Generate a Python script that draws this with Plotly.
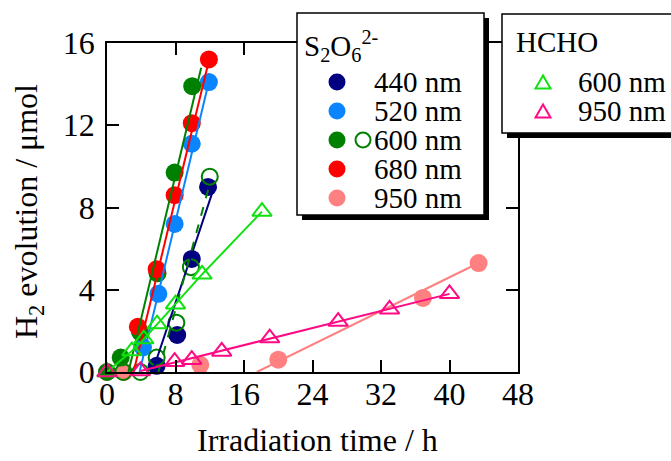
import plotly.graph_objects as go

# ---------------- data ----------------
# S2O6^2- series (filled circles)
s440_x = [5.8, 8.2, 9.9, 11.8]
s440_y = [0.3, 1.8, 5.5, 9.0]
s520_x = [4.2, 6.0, 7.9, 9.9, 11.9]
s520_y = [1.2, 3.8, 7.2, 11.1, 14.1]
s600_x = [0, 1.6, 3.85, 5.9, 7.9, 9.95]
s600_y = [0, 0.7, 1.95, 4.8, 9.7, 13.9]
s600o_x = [1.9, 3.9, 5.8, 8.1, 9.8, 12.0]
s600o_y = [0, 0, 0.7, 2.4, 5.1, 9.5]
s680_x = [3.6, 5.8, 7.9, 9.9, 11.9]
s680_y = [2.2, 5.0, 8.6, 12.1, 15.2]
s950_x = [0, 2.0, 10.9, 20.0, 36.9, 43.4]
s950_y = [0, 0, 0.35, 0.6, 3.6, 5.3]
# HCHO series (open triangles)
h600_x = [0, 2.9, 4.3, 5.85, 8.0, 11.1, 18.1]
h600_y = [0, 1.02, 1.6, 2.33, 3.3, 4.75, 7.8]
h950_x = [0, 3.9, 7.9, 9.9, 13.4, 19.0, 27.0, 33.0, 40.0]
h950_y = [0, 0.05, 0.5, 0.6, 1.0, 1.65, 2.45, 3.05, 3.8]
# fitted lines (end points)
fit440_x, fit440_y = [5.3, 12.6], [0, 9.1]
fit520_x, fit520_y = [3.8, 12.0], [0, 14.3]
fit600_x, fit600_y = [2.5, 11.0], [0, 14.8]
fit600o_x, fit600o_y = [6.0, 11.9], [0, 9.0]
fit680_x, fit680_y = [3.1, 11.7], [0, 14.8]
fit950_x, fit950_y = [17.5, 43.4], [0, 5.3]
fith950_x, fith950_y = [3.9, 40.0], [0.05, 3.8]

x_ticks = [0, 8, 16, 24, 32, 40, 48]
y_ticks = [0, 4, 8, 12, 16]

NAVY = "#000080"
BLUE = "#0A85FF"
GREEN = "#008000"
RED = "#FF0000"
SALMON = "#FF8080"
LIME = "#11E011"
PINK = "#FF0A84"

FONT = "Times New Roman, Liberation Serif, DejaVu Serif, serif"

fig = go.Figure()

def line(x, y, color, dash="solid"):
    fig.add_trace(go.Scatter(x=x, y=y, mode="lines", line=dict(color=color, width=2, dash=dash),
                             cliponaxis=False, showlegend=False, hoverinfo="skip"))

def pts(x, y, color, symbol="circle", size=18, open_=False):
    if open_:
        m = dict(symbol=symbol, size=size, color=color, line=dict(color=color, width=2))
    else:
        m = dict(symbol=symbol, size=size, color=color, line=dict(width=0))
    fig.add_trace(go.Scatter(x=x, y=y, mode="markers", marker=m, cliponaxis=False, showlegend=False))

# markers
pts(s950_x, s950_y, SALMON)
pts(s440_x, s440_y, NAVY)
pts(s520_x, s520_y, BLUE)
pts(s600_x, s600_y, GREEN)
pts(s680_x, s680_y, RED)
pts(s600o_x, s600o_y, GREEN, "circle-open", 16, True)
# lines
line(fit950_x, fit950_y, SALMON)
line(fit440_x, fit440_y, NAVY)
line(fit520_x, fit520_y, BLUE)
line(fit680_x, fit680_y, RED)
line(fit600_x, fit600_y, GREEN)
line(fit600o_x, fit600o_y, GREEN, "dash")
line(fith950_x, fith950_y, PINK)
fig.add_trace(go.Scatter(x=h600_x, y=h600_y, mode="lines+markers", line=dict(color=LIME, width=2),
                         marker=dict(symbol="triangle-up-open", size=17, color=LIME, line=dict(color=LIME, width=2)),
                         cliponaxis=False, showlegend=False))
pts(h950_x, h950_y, PINK, "triangle-up-open", 17, True)

# ---------------- layout ----------------
L, R, T, B = 107, 518, 43, 372
W, H = 671, 461

def X(px):
    return (px - L) / (R - L)

def Y(py):
    return (B - py) / (B - T)

axis_common = dict(showline=True, linecolor="black", linewidth=1.5, mirror="ticks",
                   ticks="inside", ticklen=12, tickwidth=1.5, tickcolor="black",
                   showgrid=False, zeroline=False,
                   tickfont=dict(family=FONT, size=32, color="black"))

fig.update_layout(
    width=W, height=H,
    margin=dict(l=L, r=W - R, t=T, b=H - B),
    paper_bgcolor="white", plot_bgcolor="white",
    showlegend=False,
    font=dict(family=FONT, color="black"),
    xaxis=dict(range=[0, 48], tickvals=x_ticks, ticklabelstandoff=-7, **axis_common),
    yaxis=dict(range=[0, 16], tickvals=y_ticks, ticklabelstandoff=4, **axis_common),
)

shapes = []
annotations = []

# axis titles
annotations.append(dict(xref="paper", yref="paper", x=X(317), y=Y(440), text="Irradiation time / h",
                        showarrow=False, xanchor="center", yanchor="middle",
                        font=dict(family=FONT, size=32, color="black")))
annotations.append(dict(xref="paper", yref="paper", x=X(29), y=Y(212),
                        text="H<sub>2</sub> evolution / μmol", textangle=-90,
                        showarrow=False, xanchor="center", yanchor="middle",
                        font=dict(family=FONT, size=32, color="black")))

def box(x0, y0, x1, y1):
    shapes.append(dict(type="rect", xref="paper", yref="paper", x0=X(x0 + 5), x1=X(x1 + 5),
                       y0=Y(y0 + 5), y1=Y(y1 + 5), fillcolor="black", line=dict(width=0), layer="above"))
    shapes.append(dict(type="rect", xref="paper", yref="paper", x0=X(x0), x1=X(x1),
                       y0=Y(y0), y1=Y(y1), fillcolor="white", line=dict(color="black", width=1.5), layer="above"))

def circ(cx, cy, r, color, open_=False):
    d = dict(type="circle", xref="paper", yref="paper", x0=X(cx - r), x1=X(cx + r),
             y0=Y(cy + r), y1=Y(cy - r), layer="above")
    if open_:
        d.update(fillcolor="rgba(0,0,0,0)", line=dict(color=color, width=2))
    else:
        d.update(fillcolor=color, line=dict(width=0))
    shapes.append(d)

def tri(cx, cy, s, color):
    h = s * 0.87
    path = (f"M {X(cx - s/2)},{Y(cy + h/2)} L {X(cx + s/2)},{Y(cy + h/2)} "
            f"L {X(cx)},{Y(cy - h/2)} Z")
    shapes.append(dict(type="path", xref="paper", yref="paper", path=path,
                       fillcolor="rgba(0,0,0,0)", line=dict(color=color, width=2), layer="above"))

def text(x, y, s, size=29):
    annotations.append(dict(xref="paper", yref="paper", x=X(x), y=Y(y), text=s, showarrow=False,
                            xanchor="left", yanchor="middle",
                            font=dict(family=FONT, size=size, color="black")))

# legend 1
box(297, 13, 484, 215)
text(302, 46, "S<sub>2</sub>O<sub>6</sub><sup>2-</sup>")
leg1 = [("440 nm", NAVY), ("520 nm", BLUE), ("600 nm", GREEN), ("680 nm", RED), ("950 nm", SALMON)]
for i, (lab, col) in enumerate(leg1):
    yy = 82 + i * 29
    circ(337, yy, 8.5, col)
    text(372, yy, lab)
circ(363, 140, 7.5, GREEN, open_=True)

# legend 2
box(502, 14, 690, 133)
text(514, 42, "HCHO")
for i, (lab, col) in enumerate([("600 nm", LIME), ("950 nm", PINK)]):
    yy = 82 + i * 29
    tri(543, yy, 15, col)
    text(576, yy, lab)

fig.update_layout(shapes=shapes, annotations=annotations)
fig.write_html("out.html")
